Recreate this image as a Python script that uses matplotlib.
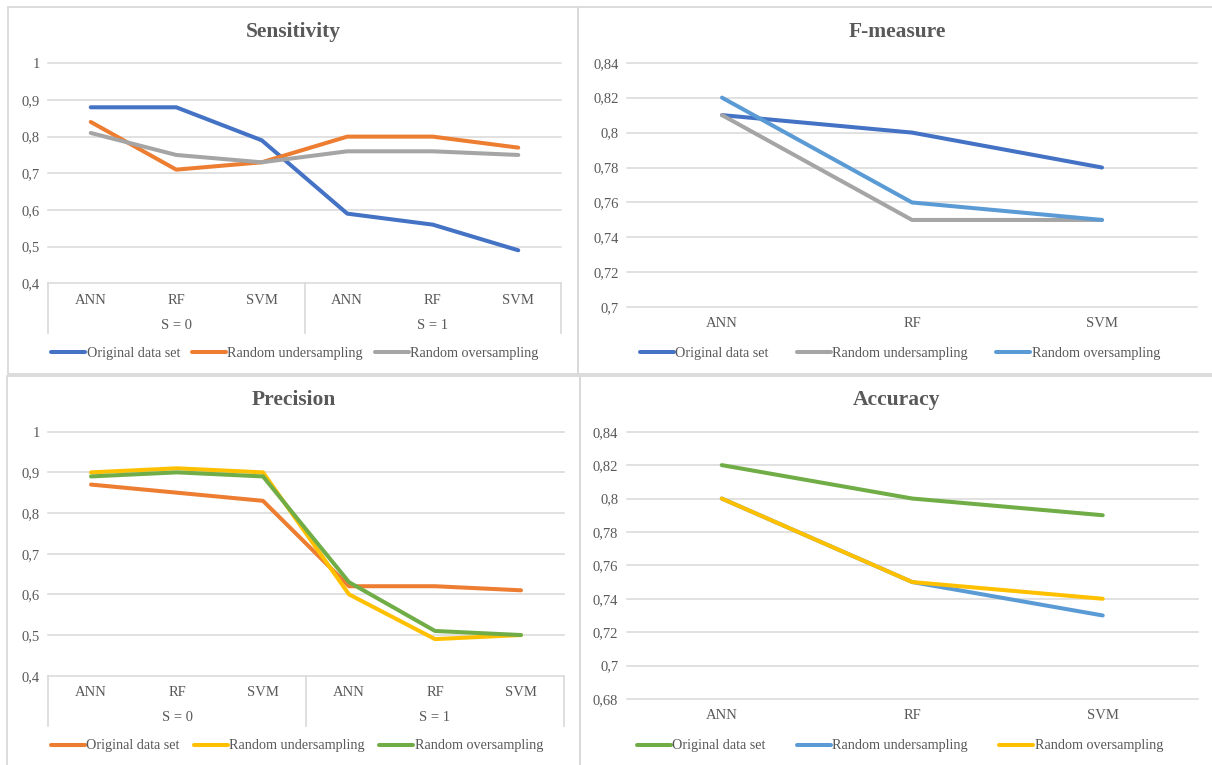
import matplotlib.pyplot as plt
from matplotlib.patches import Rectangle

# -----------------------------------------------------------------------------
# Data
# -----------------------------------------------------------------------------
models = ['ANN', 'RF', 'SVM']
groups = ['S = 0', 'S = 1']
series_names = ['Original data set', 'Random undersampling', 'Random oversampling']

# Sensitivity, per class S (ANN, RF, SVM for S = 0 then S = 1)
sens_original = [0.88, 0.88, 0.79, 0.59, 0.56, 0.49]
sens_under = [0.84, 0.71, 0.73, 0.80, 0.80, 0.77]
sens_over = [0.81, 0.75, 0.73, 0.76, 0.76, 0.75]

# Precision, per class S
prec_original = [0.87, 0.85, 0.83, 0.62, 0.62, 0.61]
prec_under = [0.90, 0.91, 0.90, 0.60, 0.49, 0.50]
prec_over = [0.89, 0.90, 0.89, 0.63, 0.51, 0.50]

# F-measure, overall
fm_original = [0.81, 0.80, 0.78]
fm_under = [0.81, 0.75, 0.75]
fm_over = [0.82, 0.76, 0.75]

# Accuracy, overall
acc_original = [0.82, 0.80, 0.79]
acc_under = [0.80, 0.75, 0.73]
acc_over = [0.80, 0.75, 0.74]

sens_ticks = [0.4, 0.5, 0.6, 0.7, 0.8, 0.9, 1.0]
fm_ticks = [0.70, 0.72, 0.74, 0.76, 0.78, 0.80, 0.82, 0.84]
acc_ticks = [0.68, 0.70, 0.72, 0.74, 0.76, 0.78, 0.80, 0.82, 0.84]

# Office palette
BLUE = '#4472C4'
ORANGE = '#ED7D31'
GRAY = '#A5A5A5'
YELLOW = '#FFC000'
LIGHTBLUE = '#5B9BD5'
GREEN = '#70AD47'
TEXT = '#595959'
GRID = '#D9D9D9'

# -----------------------------------------------------------------------------
# Figure setup (all layout in pixels)
# -----------------------------------------------------------------------------
W, H = 1212, 765
plt.rcParams['font.family'] = ['Liberation Serif', 'DejaVu Serif']
fig = plt.figure(figsize=(W / 100, H / 100), dpi=100)
fig.patch.set_facecolor('white')


def px_axes(left, top, right, bottom):
    return fig.add_axes([left / W, 1 - bottom / H, (right - left) / W, (bottom - top) / H])


def panel_border(left, top, right, bottom):
    fig.add_artist(Rectangle((left / W, 1 - bottom / H), (right - left) / W, (bottom - top) / H,
                             transform=fig.transFigure, fill=False, ec=GRID, lw=1.3))


def comma(v):
    return f'{v:g}'.replace('.', ',')


def draw_panel(box, title, title_xy, labels, values, colors, ticks, label_gap,
               legend_xy, col_gap, grouped=False):
    left, top, right, bottom = box
    ax = px_axes(*box)
    height_px = bottom - top
    x = list(range(len(labels)))
    for vals, c, name in zip(values, colors, series_names):
        ax.plot(x, vals, color=c, lw=2.9, solid_capstyle='round',
                solid_joinstyle='round', label=name, clip_on=False)
    ax.set_xlim(-0.5, len(labels) - 0.5)
    ax.set_ylim(ticks[0], ticks[-1])
    ax.set_yticks(ticks)
    ax.set_yticklabels([comma(t) for t in ticks])
    ax.set_xticks(x)
    ax.set_xticklabels(labels)
    ax.tick_params(axis='both', length=0, labelsize=10.5, labelcolor=TEXT)
    ax.tick_params(axis='y', pad=6)
    ax.tick_params(axis='x', pad=label_gap)
    ax.grid(axis='y', color=GRID, lw=1.1)
    for gl in ax.get_ygridlines():
        gl.set_clip_on(False)
    ax.set_axisbelow(True)
    for s in ax.spines.values():
        s.set_visible(False)

    if grouped:
        n = len(models)
        drop = 50 / height_px
        for k in range(len(groups) + 1):
            xb = k * n - 0.5
            ax.plot([xb, xb], [0, -drop], transform=ax.get_xaxis_transform(),
                    color=GRID, lw=1.2, clip_on=False)
        for k, g in enumerate(groups):
            ax.annotate(g, xy=(k * n + (n - 1) / 2, 0), xycoords=('data', 'axes fraction'),
                        xytext=(0, -42 * 0.72), textcoords='offset points',
                        ha='center', va='center', fontsize=10.5, color=TEXT)

    fig.text(title_xy[0] / W, 1 - title_xy[1] / H, title, ha='center', va='center',
             fontsize=15.5, fontweight='bold', color=TEXT)
    leg = ax.legend(loc='center', bbox_to_anchor=(legend_xy[0] / W, 1 - legend_xy[1] / H),
                    bbox_transform=fig.transFigure, ncol=3, frameon=False,
                    fontsize=10.2, handlelength=2.4, handletextpad=0.1,
                    columnspacing=col_gap, borderpad=0)
    for t in leg.get_texts():
        t.set_color(TEXT)
    return ax


# Panel frames
panel_border(8, 7, 578, 374)
panel_border(578, 7, 1218, 374)
panel_border(7, 376, 580, 772)
panel_border(580, 376, 1218, 772)

draw_panel((48, 63.3, 561, 283.3), 'Sensitivity', (293, 32), models * 2,
           [sens_original, sens_under, sens_over], [BLUE, ORANGE, GRAY],
           sens_ticks, 7.5, (295, 353), 0.85, grouped=True)

draw_panel((627, 62.7, 1197, 307.3), 'F-measure', (897, 32), models,
           [fm_original, fm_under, fm_over], [BLUE, GRAY, LIGHTBLUE],
           fm_ticks, 7, (900, 353), 2.0)

draw_panel((48, 431.7, 564, 675.7), 'Precision', (294, 400), models * 2,
           [prec_original, prec_under, prec_over], [ORANGE, YELLOW, GREEN],
           sens_ticks, 7.5, (297, 746), 1.0, grouped=True)

draw_panel((626.5, 431.7, 1198, 699), 'Accuracy', (897, 400), models,
           [acc_original, acc_under, acc_over], [GREEN, LIGHTBLUE, YELLOW],
           acc_ticks, 7.5, (900, 746), 2.2)

fig.savefig('out.png', dpi=100, facecolor='white')
